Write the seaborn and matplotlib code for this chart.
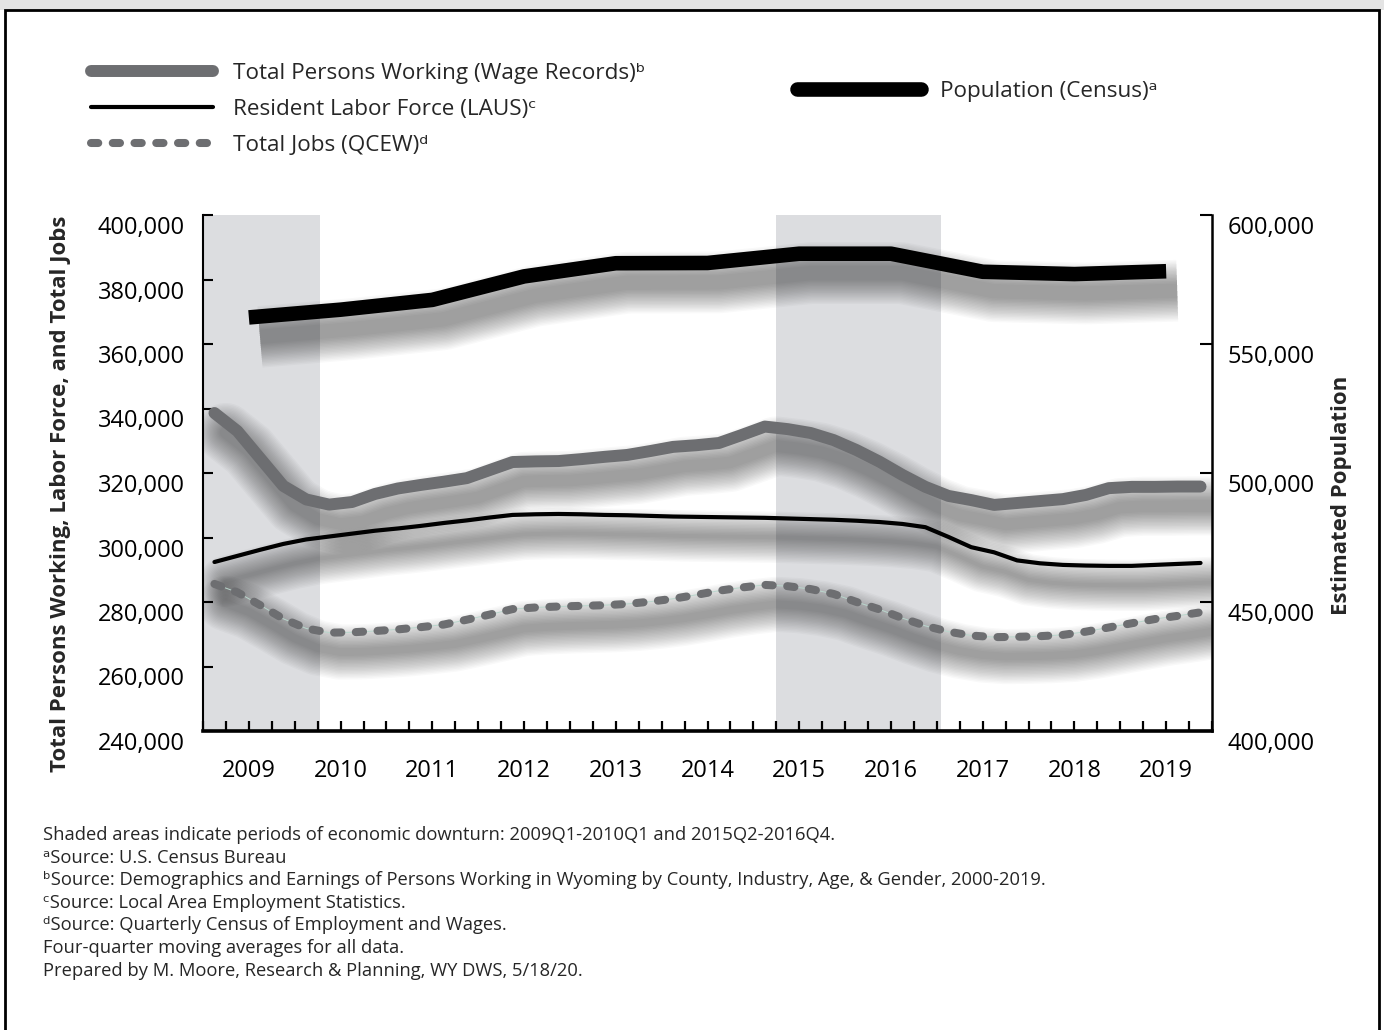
import numpy as np
import pandas as pd
import matplotlib.pyplot as plt
import matplotlib.patheffects as pe
from matplotlib.lines import Line2D
from matplotlib.patches import Rectangle
from matplotlib.ticker import StrMethodFormatter
from matplotlib.transforms import ScaledTranslation
import seaborn as sns

# quarterly series 2009Q1 - 2019Q4 (four-quarter moving averages), thousands
quarter_pos = np.arange(44) + 0.5
years = list(range(2009, 2020))
year_pos = [4 * k + 2 for k in range(len(years))]

wage_records = [338.6, 333.0, 324.5, 316.0, 311.8, 310.2, 311.0, 313.5, 315.2, 316.3, 317.3, 318.4,
                320.9, 323.4, 323.6, 323.7, 324.3, 325.0, 325.6, 326.8, 328.1, 328.6, 329.3, 331.8,
                334.4, 333.6, 332.4, 330.2, 327.1, 323.5, 319.4, 315.7, 312.9, 311.6, 310.1, 310.7,
                311.3, 311.9, 313.2, 315.3, 315.7, 315.7, 315.8, 315.8]
labor_force = [292.4, 294.3, 296.2, 298.0, 299.4, 300.3, 301.2, 302.1, 302.8, 303.6, 304.5, 305.3,
               306.2, 307.0, 307.2, 307.3, 307.2, 307.0, 306.9, 306.7, 306.5, 306.4, 306.3, 306.2,
               306.1, 305.9, 305.7, 305.5, 305.2, 304.8, 304.2, 303.2, 300.2, 297.0, 295.4, 292.9,
               292.0, 291.5, 291.3, 291.2, 291.2, 291.5, 291.8, 292.1]
total_jobs = [285.6, 283.0, 279.0, 274.8, 271.8, 270.5, 270.6, 271.0, 271.5, 272.2, 273.0, 274.5,
              276.1, 277.8, 278.3, 278.6, 278.8, 279.0, 279.4, 280.1, 281.0, 282.2, 283.5, 284.5,
              285.3, 284.9, 284.0, 282.5, 280.0, 277.7, 275.0, 272.6, 270.8, 269.6, 269.1, 269.2,
              269.4, 269.8, 270.8, 272.1, 273.4, 274.7, 275.7, 276.8]
# annual population estimates (thousands), mid-year
population = [560.3, 563.3, 567.1, 576.2, 581.3, 581.4, 585.0, 585.0, 578.0, 577.1, 578.2]

# downturns: 2009Q1-2010Q1 and 2015Q2-2016Q4 (in quarters from 2009Q1)
downturns = [(0, 5.1), (25, 32.2)]

df = pd.DataFrame({'q': quarter_pos,
                   'wage': np.array(wage_records) * 1000,
                   'laus': np.array(labor_force) * 1000,
                   'jobs': np.array(total_jobs) * 1000})
pop = pd.DataFrame({'x': year_pos, 'pop': np.array(population) * 1000})

sns.set_style('white')
plt.rcParams['font.family'] = ['Open Sans', 'DejaVu Sans']

gray = '#6d6e71'
shade = '#dcdde0'
dash = (0, (0.9, 1.8))


def blur(lw):
    # fake soft drop shadow: many faint shadows of growing width
    return [pe.SimpleLineShadow(offset=(8, -14), shadow_color='k', alpha=0.022,
                                linewidth=lw + k) for k in range(0, 36, 2)]


fig = plt.figure(figsize=(13.84, 10.30), dpi=100)
ax = fig.add_axes([203 / 1384, 1 - 731 / 1030, 1009 / 1384, 516 / 1030])
ax2 = ax.twinx()

for a, b in downturns:
    ax.axvspan(a, b, color=shade, lw=0, zorder=0)

#shadows first
for col, lw in [('wage', 8.6), ('laus', 3.0), ('jobs', 5.8)]:
    sns.lineplot(data=df, x='q', y=col, ax=ax, color='k', lw=lw, legend=False,
                 path_effects=blur(lw), solid_capstyle='round', zorder=1)
sns.lineplot(data=pop, x='x', y='pop', ax=ax2, color='k', lw=10.5, legend=False,
             path_effects=blur(10.5), solid_capstyle='butt', zorder=1)

# the lines
sns.lineplot(data=df, x='q', y='jobs', ax=ax, color='#b9d6cc', lw=0.7, legend=False, zorder=2)
sns.lineplot(data=df, x='q', y='jobs', ax=ax, color=gray, lw=5.8, legend=False,
             linestyle=dash, dash_capstyle='round', zorder=3)
sns.lineplot(data=df, x='q', y='laus', ax=ax, color='k', lw=3.0, legend=False,
             solid_capstyle='round', zorder=3)
sns.lineplot(data=df, x='q', y='wage', ax=ax, color=gray, lw=8.6, legend=False,
             solid_capstyle='round', zorder=3)
sns.lineplot(data=pop, x='x', y='pop', ax=ax2, color='k', lw=10.5, legend=False,
             solid_capstyle='butt', zorder=3)

ax.set_xlim(0, 44)
ax.set_ylim(240000, 400000)
ax2.set_ylim(400000, 600000)
ax.set_xticks(year_pos)
ax.set_xticklabels([str(y) for y in years])
ax.set_xticks(range(0, 45), minor=True)
ax.set_yticks(range(240000, 400001, 20000))
ax2.set_yticks(range(400000, 600001, 50000))
ax.yaxis.set_major_formatter(StrMethodFormatter('{x:,.0f}'))
ax2.yaxis.set_major_formatter(StrMethodFormatter('{x:,.0f}'))

ax.set_xlabel('')
ax.set_ylabel('Total Persons Working, Labor Force, and Total Jobs', fontsize=16, fontweight='bold')
ax2.set_ylabel('Estimated Population', fontsize=16, fontweight='bold')
ax.yaxis.set_label_coords(-0.131, 0.459)
ax2.yaxis.set_label_coords(1.118, 0.457)

for s in ['top', 'right']:
    ax.spines[s].set_visible(False)
for s in ['top', 'left', 'bottom']:
    ax2.spines[s].set_visible(False)
ax.spines['left'].set_linewidth(1.5)
ax.spines['bottom'].set_linewidth(2.6)
ax2.spines['right'].set_linewidth(1.8)
for sp in [ax.spines['left'], ax.spines['bottom'], ax2.spines['right']]:
    sp.set_color('k')

ax.tick_params(axis='y', left=True, direction='in', length=7, width=1.5, labelsize=17, pad=13, colors='k')
ax.tick_params(axis='x', which='both', bottom=True, direction='in', length=7, width=1.6,
               labelsize=17, pad=20, colors='k')
ax2.tick_params(axis='y', right=True, direction='in', length=9, width=1.5, labelsize=17, pad=11, colors='k')

# tick labels sit a bit below their ticks in the original
off = ScaledTranslation(0, -0.10, fig.dpi_scale_trans)
for lab in ax.get_yticklabels() + ax2.get_yticklabels():
    lab.set_transform(lab.get_transform() + off)

# legends
h1 = [Line2D([], [], color=gray, lw=8.6, solid_capstyle='round'),
      Line2D([], [], color='k', lw=3.0, solid_capstyle='round'),
      Line2D([], [], color=gray, lw=5.8, linestyle=dash, dash_capstyle='round')]
l1 = ['Total Persons Working (Wage Records)ᵇ', 'Resident Labor Force (LAUS)ᶜ', 'Total Jobs (QCEW)ᵈ']
fig.legend(h1, l1, loc='upper left', bbox_to_anchor=(91 / 1384, 1 - 63 / 1030), frameon=False,
           fontsize=16.2, handlelength=5.4, handletextpad=0.89, labelspacing=0.66,
           borderpad=0, borderaxespad=0)
h2 = [Line2D([], [], color='k', lw=10.5, solid_capstyle='round')]
fig.legend(h2, ['Population (Census)ᵃ'], loc='center left', bbox_to_anchor=(797 / 1384, 1 - 91 / 1030),
           frameon=False, fontsize=16.2, handlelength=5.5, handletextpad=0.85,
           borderpad=0, borderaxespad=0)

notes = ['Shaded areas indicate periods of economic downturn: 2009Q1-2010Q1 and 2015Q2-2016Q4.',
         'ᵃSource: U.S. Census Bureau',
         'ᵇSource: Demographics and Earnings of Persons Working in Wyoming by County, Industry, Age, & Gender, 2000-2019.',
         'ᶜSource: Local Area Employment Statistics.',
         'ᵈSource: Quarterly Census of Employment and Wages.',
         'Four-quarter moving averages for all data.',
         'Prepared by M. Moore, Research & Planning, WY DWS, 5/18/20.']
for i, t in enumerate(notes):
    fig.text(43 / 1384, 1 - (835 + 22.6 * i) / 1030, t, fontsize=13.2, va='center')

# page frame and grey top band
fig.add_artist(Rectangle((0, 1 - 10 / 1030), 1, 10 / 1030, transform=fig.transFigure,
                         fc='#e4e4e4', ec='none'))
fig.add_artist(Rectangle((5 / 1384, -0.01), 1374 / 1384, 1.01 - 10 / 1030, transform=fig.transFigure,
                         fill=False, ec='k', lw=2))

plt.savefig('out.png', dpi=100)
